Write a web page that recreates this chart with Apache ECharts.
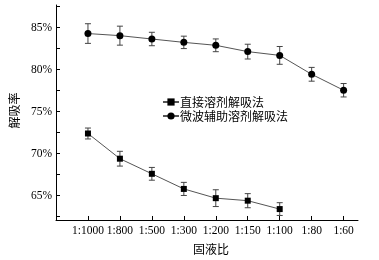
<!DOCTYPE html>
<html>
<head>
<meta charset="utf-8">
<script src="https://cdn.jsdelivr.net/npm/echarts@6/dist/echarts.min.js"></script>
<style>
  html, body { margin: 0; padding: 0; background: #fff; }
  #chart { width: 379px; height: 260px; }
</style>
</head>
<body>
<div id="chart"></div>
<script>
// 固液比 categories
var categories = ['1:1000', '1:800', '1:500', '1:300', '1:200', '1:150', '1:100', '1:80', '1:60'];

// 直接溶剂解吸法 (squares), 7 points
var directVals = [72.4, 69.4, 67.6, 65.8, 64.7, 64.4, 63.4];
var directErr  = [0.65, 0.88, 0.76, 0.78, 1.0, 0.84, 0.76];

// 微波辅助溶剂解吸法 (circles), 9 points
var microVals = [84.3, 84.05, 83.65, 83.25, 82.9, 82.15, 81.7, 79.45, 77.55];
var microErr  = [1.17, 1.13, 0.8, 0.74, 0.76, 0.88, 1.06, 0.82, 0.8];

var yLabels = [65, 70, 75, 80, 85];
var yTicks = [62.5, 65, 67.5, 70, 72.5, 75, 77.5, 80, 82.5, 85, 87.5];

function pts(vals) {
  return vals.map(function (v, i) { return [i + 1, v]; });
}
function errData(vals, errs) {
  return vals.map(function (v, i) { return [i + 1, v - errs[i], v + errs[i]]; });
}

function errorBar(params, api) {
  var x = api.value(0);
  var lo = api.coord([x, api.value(1)]);
  var hi = api.coord([x, api.value(2)]);
  var cap = 3;
  var style = { stroke: '#444', lineWidth: 1 };
  return {
    type: 'group',
    children: [
      { type: 'line', shape: { x1: lo[0], y1: lo[1], x2: hi[0], y2: hi[1] }, style: style },
      { type: 'line', shape: { x1: lo[0] - cap, y1: lo[1], x2: lo[0] + cap, y2: lo[1] }, style: style },
      { type: 'line', shape: { x1: hi[0] - cap, y1: hi[1], x2: hi[0] + cap, y2: hi[1] }, style: style }
    ]
  };
}

var serif = 'Liberation Serif';
var cjk = 'Noto Sans CJK SC';

var chart = echarts.init(document.getElementById('chart'));
chart.setOption({
  animation: false,
  backgroundColor: '#fff',
  grid: { left: 51, right: 21, top: 5, bottom: 37 },
  legend: {
    orient: 'vertical',
    left: 162,
    top: 96,
    itemWidth: 16,
    itemHeight: 9,
    itemGap: 2,
    padding: 0,
    textStyle: { fontFamily: cjk, fontSize: 12, color: '#000', padding: [0, 0, 0, -4] },
    data: ['直接溶剂解吸法', '微波辅助溶剂解吸法']
  },
  xAxis: {
    type: 'value',
    min: 0,
    max: 9.45,
    name: '固液比',
    nameLocation: 'middle',
    nameGap: 23,
    nameTextStyle: { fontFamily: cjk, fontSize: 12, color: '#000', padding: [0, 0, 0, 8] },
    splitLine: { show: false },
    axisLine: { lineStyle: { color: '#000', width: 1 } },
    axisTick: { inside: true, length: 4, lineStyle: { color: '#000' }, customValues: [1, 2, 3, 4, 5, 6, 7, 8, 9] },
    axisLabel: {
      customValues: [1, 2, 3, 4, 5, 6, 7, 8, 9],
      fontFamily: serif, fontSize: 11.5, color: '#000', margin: 5,
      formatter: function (v) { return categories[Math.round(v) - 1] || ''; }
    }
  },
  yAxis: {
    type: 'value',
    min: 62.1,
    max: 87.7,
    name: '解吸率',
    nameLocation: 'middle',
    nameRotate: 90,
    nameGap: 36,
    nameTextStyle: { fontFamily: cjk, fontSize: 12, color: '#000', padding: [0, 0, 0, 4] },
    splitLine: { show: false },
    axisLine: { show: true, lineStyle: { color: '#000', width: 1 } },
    axisTick: { inside: true, length: 4, lineStyle: { color: '#000' }, customValues: yTicks },
    axisLabel: {
      customValues: yLabels,
      fontFamily: serif, fontSize: 11.5, color: '#000', margin: 4,
      formatter: '{value}%'
    }
  },
  series: [
    {
      name: '直接溶剂解吸法',
      type: 'line',
      data: pts(directVals),
      symbol: 'rect',
      symbolSize: 6,
      itemStyle: { color: '#000' },
      lineStyle: { color: '#555', width: 1 },
      z: 3
    },
    {
      name: '微波辅助溶剂解吸法',
      type: 'line',
      data: pts(microVals),
      symbol: 'circle',
      symbolSize: 7,
      itemStyle: { color: '#000' },
      lineStyle: { color: '#555', width: 1 },
      z: 3
    },
    {
      type: 'custom',
      renderItem: errorBar,
      data: errData(directVals, directErr),
      encode: { x: 0, y: [1, 2] },
      z: 2
    },
    {
      type: 'custom',
      renderItem: errorBar,
      data: errData(microVals, microErr),
      encode: { x: 0, y: [1, 2] },
      z: 2
    }
  ]
});
</script>
</body>
</html>
